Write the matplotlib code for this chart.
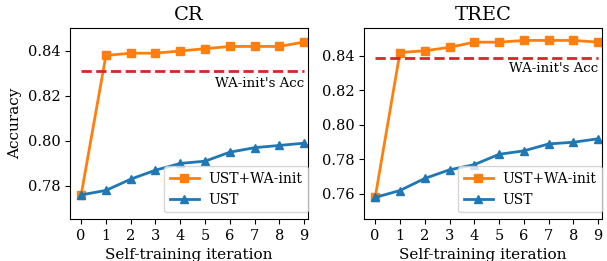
import matplotlib
matplotlib.use('Agg')
import matplotlib.pyplot as plt

iters = list(range(10))

cr_wa = [0.776, 0.838, 0.839, 0.839, 0.840, 0.841, 0.842, 0.842, 0.842, 0.844]
cr_ust = [0.776, 0.778, 0.783, 0.787, 0.790, 0.791, 0.795, 0.797, 0.798, 0.799]
cr_base = 0.831

trec_wa = [0.758, 0.842, 0.843, 0.845, 0.848, 0.848, 0.849, 0.849, 0.849, 0.848]
trec_ust = [0.758, 0.762, 0.769, 0.774, 0.777, 0.783, 0.785, 0.789, 0.790, 0.792]
trec_base = 0.839

plt.rcParams['font.family'] = 'DejaVu Serif'

fig = plt.figure(figsize=(6.07, 2.61), dpi=100)
ax1 = fig.add_axes([0.1153, 0.161, 0.392, 0.7317])
ax2 = fig.add_axes([0.5997, 0.161, 0.392, 0.7317])


def draw(ax, title, wa, ust, base, ylim, yticks):
    ax.plot(iters, wa, '-s', color='#ff7f0e', lw=2, ms=6, label='UST+WA-init')
    ax.plot(iters, ust, '-^', color='#1f77b4', lw=2, ms=6, label='UST')
    ax.plot([0, 9], [base, base], '--', color='#d62728', lw=2)
    ax.text(9, base - 0.0025, "WA-init's Acc", ha='right', va='top', fontsize=9.6)
    ax.set_title(title, fontsize=14)
    ax.set_xlabel('Self-training iteration', fontsize=11)
    ax.set_xlim(-0.45, 9.15)
    ax.set_ylim(*ylim)
    ax.set_xticks(iters)
    ax.set_yticks(yticks)
    ax.set_yticklabels([f'{t:.2f}' for t in yticks])
    ax.tick_params(labelsize=10.5)
    ax.legend(loc='lower right', fontsize=10, handlelength=2.1, handletextpad=0.7,
              bbox_to_anchor=(1.0, 0.035), borderaxespad=0.0)


draw(ax1, 'CR', cr_wa, cr_ust, cr_base, (0.7653, 0.8502), [0.78, 0.80, 0.82, 0.84])
draw(ax2, 'TREC', trec_wa, trec_ust, trec_base, (0.7455, 0.8562), [0.76, 0.78, 0.80, 0.82, 0.84])
ax1.set_ylabel('Accuracy', fontsize=11)

fig.savefig('out.png', dpi=100)
